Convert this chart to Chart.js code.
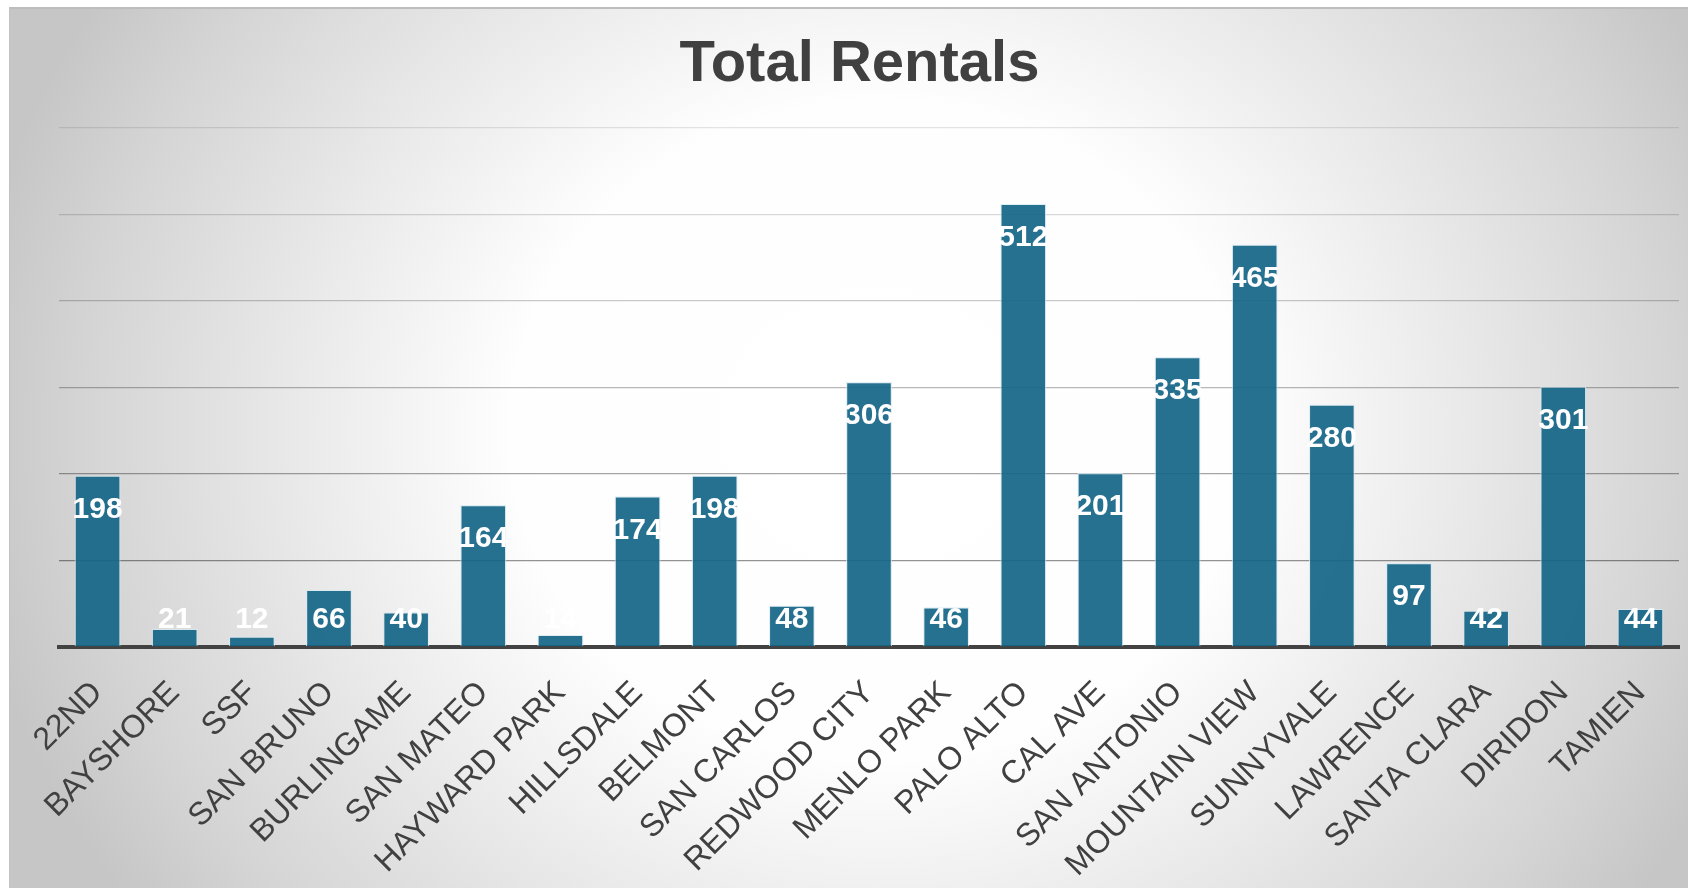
<!DOCTYPE html>
<html>
<head>
<meta charset="utf-8">
<script src="https://cdn.jsdelivr.net/npm/chart.js@4.4.1/dist/chart.umd.min.js"></script>
<style>
  html, body { margin: 0; padding: 0; background: #ffffff; overflow: hidden; width: 1688px; height: 888px; }
  #wrap { position: absolute; left: 9px; top: 7px; border-top: 2px solid #bdbdbd; border-left: 1px solid #c2c2c2; }
  canvas { display: block; }
</style>
</head>
<body>
<div id="wrap"><canvas id="c" width="1699" height="879"></canvas></div>
<script>
const stations = ["22ND", "BAYSHORE", "SSF", "SAN BRUNO", "BURLINGAME", "SAN MATEO", "HAYWARD PARK",
  "HILLSDALE", "BELMONT", "SAN CARLOS", "REDWOOD CITY", "MENLO PARK", "PALO ALTO", "CAL AVE",
  "SAN ANTONIO", "MOUNTAIN VIEW", "SUNNYVALE", "LAWRENCE", "SANTA CLARA", "DIRIDON", "TAMIEN"];
const totalRentals = [198, 21, 12, 66, 40, 164, 14, 174, 198, 48, 306, 46, 512, 201, 335, 465, 280, 97, 42, 301, 44];
const yTicks = [0, 100, 200, 300, 400, 500, 600];
const gridAlpha = [0, 0.42, 0.35, 0.28, 0.21, 0.15, 0.1];
const chartTitle = "Total Rentals";

const bgPlugin = {
  id: 'bg',
  beforeDraw(chart) {
    const ctx = chart.ctx, W = chart.width, H = chart.height;
    const cx = 870, cy = 421, rx = 920, ry = 820;
    ctx.save();
    ctx.translate(cx, cy);
    ctx.scale(rx, ry);
    const g = ctx.createRadialGradient(0, 0, 0, 0, 0, 1);
    g.addColorStop(0, '#ffffff');
    g.addColorStop(0.4, '#fefefe');
    g.addColorStop(0.65, '#e8e8e8');
    g.addColorStop(0.87, '#d4d4d4');
    g.addColorStop(1, '#c6c6c6');
    ctx.fillStyle = g;
    ctx.fillRect(-cx / rx, -cy / ry, W / rx, H / ry);
    ctx.restore();
  }
};

const labelPlugin = {
  id: 'barLabels',
  afterDatasetsDraw(chart) {
    const ctx = chart.ctx;
    const meta = chart.getDatasetMeta(0);
    ctx.save();
    ctx.font = 'bold 30px "Liberation Sans", Arial, sans-serif';
    ctx.fillStyle = '#ffffff';
    ctx.textAlign = 'center';
    ctx.textBaseline = 'middle';
    meta.data.forEach((el, i) => {
      const cyL = Math.min(el.y + 34, el.base - 27);
      ctx.fillText(String(totalRentals[i]), el.x, cyL);
    });
    ctx.restore();
  }
};

new Chart(document.getElementById('c'), {
  type: 'bar',
  data: {
    labels: stations,
    datasets: [{
      data: totalRentals,
      backgroundColor: 'rgba(20,100,135,0.92)',
      borderColor: 'rgba(215,232,240,0.75)',
      borderWidth: 1.2,
      barPercentage: 0.596,
      categoryPercentage: 1
    }]
  },
  options: {
    responsive: false,
    animation: false,
    layout: { padding: 0 },
    plugins: {
      legend: { display: false },
      tooltip: { enabled: false },
      title: {
        display: true,
        text: chartTitle,
        color: '#404040',
        font: { family: '"Liberation Sans", Arial, sans-serif', size: 58, weight: 'bold', lineHeight: 1.2 },
        padding: { top: 21, bottom: 28 }
      }
    },
    scales: {
      x: {
        grid: { display: false, drawTicks: false },
        border: { display: true, color: '#424242', width: 4 },
        ticks: {
          color: '#404040',
          font: { family: '"Liberation Sans", Arial, sans-serif', size: 32 },
          maxRotation: 45, minRotation: 45, autoSkip: false, padding: 27
        },
        afterFit(s) { s.height = 241; }
      },
      y: {
        min: 0, max: 600,
        afterBuildTicks(s) { s.ticks = yTicks.map(v => ({ value: v })); },
        grid: {
          drawTicks: false,
          lineWidth: 1.3,
          color: (c) => 'rgba(0,0,0,' + (gridAlpha[yTicks.indexOf(c.tick.value)] || 0) + ')'
        },
        border: { display: false },
        ticks: { display: false },
        afterFit(s) { s.width = 49; }
      },
      yR: {
        position: 'right',
        grid: { display: false, drawTicks: false },
        border: { display: false },
        ticks: { display: false },
        afterFit(s) { s.width = 30; }
      }
    }
  },
  plugins: [bgPlugin, labelPlugin]
});
</script>
</body>
</html>
